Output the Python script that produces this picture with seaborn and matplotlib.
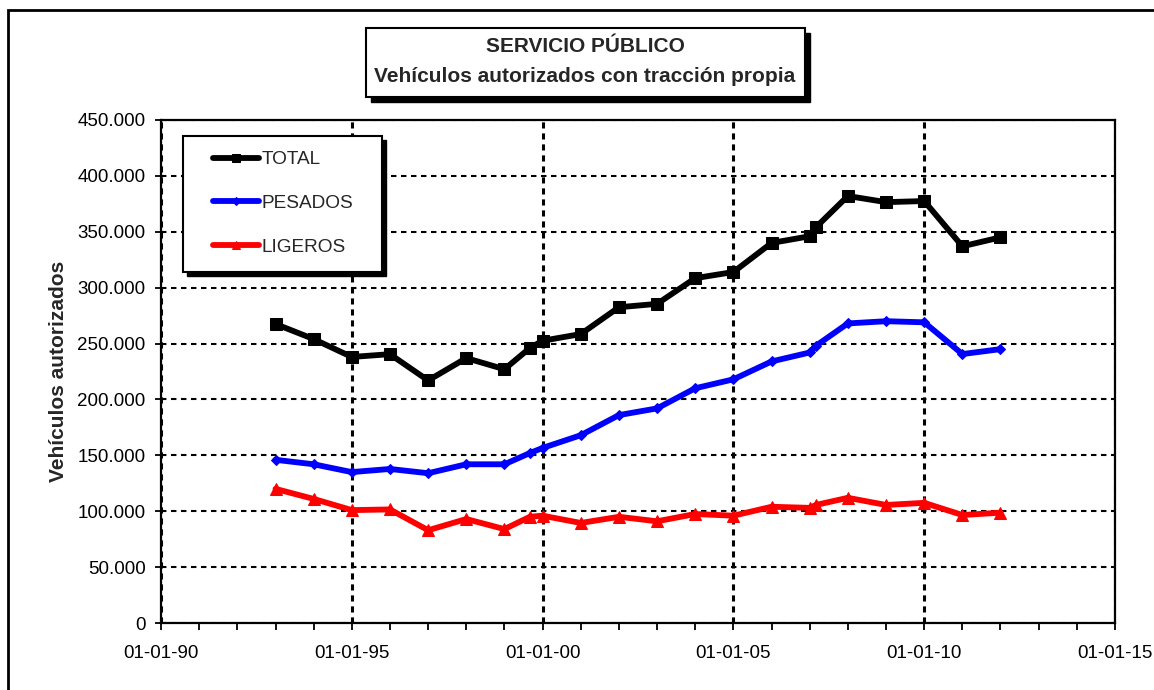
import matplotlib
matplotlib.use("Agg")
import matplotlib.pyplot as plt
import matplotlib.dates as mdates
from matplotlib.patches import Rectangle
from matplotlib.ticker import FuncFormatter, MultipleLocator
import pandas as pd
import seaborn as sns

# datos
fechas = ['1993-01-01', '1994-01-01', '1995-01-01', '1996-01-01', '1997-01-01',
          '1998-01-01', '1999-01-01', '1999-09-01', '2000-01-01', '2001-01-01',
          '2002-01-01', '2003-01-01', '2004-01-01', '2005-01-01', '2006-01-01',
          '2007-01-01', '2007-03-01', '2008-01-01', '2009-01-01', '2010-01-01',
          '2011-01-01', '2012-01-01']
total = [267500, 254000, 238000, 240500, 217000, 237000, 227000, 246000, 252500, 258500,
         282500, 285500, 308500, 314000, 340000, 346000, 354000, 382000, 376500, 377500,
         337000, 345000]
pesados = [146000, 142000, 135000, 137800, 134000, 142000, 142000, 152000, 156600, 168000,
           186000, 192000, 210000, 218000, 234000, 242000, 248000, 268000, 270000, 269000,
           240600, 245000]
ligeros = [120000, 111000, 101000, 101600, 83000, 93000, 84000, 95000, 96000, 89500,
           95000, 91000, 97500, 96000, 104000, 103000, 105600, 112000, 105600, 107500,
           96600, 98700]

series = ['TOTAL', 'PESADOS', 'LIGEROS']
valores = {'TOTAL': total, 'PESADOS': pesados, 'LIGEROS': ligeros}
colores = {'TOTAL': '#000000', 'PESADOS': '#0000FF', 'LIGEROS': '#FF0000'}
marcadores = {'TOTAL': 's', 'PESADOS': 'D', 'LIGEROS': '^'}
tam_marcador = {'TOTAL': 8, 'PESADOS': 5.5, 'LIGEROS': 8}

sns.set_style('white')
plt.rcParams['font.family'] = ['Liberation Sans', 'DejaVu Sans']

W, H = 1154, 690
fig = plt.figure(figsize=(W / 100, H / 100), dpi=100)


def fx(x):
    return x / W


def fy(y):
    return 1 - y / H


# marco exterior
fig.patches.append(Rectangle((fx(8), fy(700)), fx(1160) - fx(8), fy(10) - fy(700),
                             transform=fig.transFigure, fill=False, edgecolor='black',
                             linewidth=2, clip_on=False))

ax = fig.add_axes([fx(161), fy(623), fx(1115) - fx(161), fy(120) - fy(623)])

fechas_dt = pd.to_datetime(fechas)
for s in series:
    sns.lineplot(x=fechas_dt, y=valores[s], ax=ax, color=colores[s], linewidth=4.2,
                 marker=marcadores[s], markersize=tam_marcador[s],
                 markeredgecolor=colores[s], markerfacecolor=colores[s],
                 label=s, zorder=3)

ax.set_xlim(pd.Timestamp('1990-01-01'), pd.Timestamp('2015-01-01'))
ax.set_ylim(0, 450000)
ax.xaxis.set_major_locator(mdates.YearLocator(5))
ax.xaxis.set_minor_locator(mdates.YearLocator(1))
ax.xaxis.set_major_formatter(mdates.DateFormatter('%d-%m-%y'))
ax.yaxis.set_major_locator(MultipleLocator(50000))
ax.yaxis.set_major_formatter(FuncFormatter(lambda v, p: f"{int(v):,}".replace(',', '.')))

ax.grid(False)
ax.grid(True, axis='y', color='black', linewidth=1.5, linestyle=(0, (2.6, 2.2)), zorder=1)
ax.grid(True, axis='x', which='major', color='black', linewidth=2.2,
        linestyle=(0, (2, 1.6)), zorder=1)

for sp in ax.spines.values():
    sp.set_color('black')
    sp.set_linewidth(1.6)

ax.tick_params(axis='both', which='both', direction='out', colors='black',
               labelsize=13.5, width=1.3)
ax.tick_params(axis='y', length=4, pad=7)
ax.tick_params(axis='x', which='major', length=5, pad=11)
ax.tick_params(axis='x', which='minor', length=5)
ax.tick_params(axis='x', which='both', bottom=True)
ax.tick_params(axis='y', left=True)

ax.set_xlabel('')
ax.set_ylabel('Vehículos autorizados', fontsize=15, fontweight='bold')
ax.yaxis.set_label_coords(-0.098, 0.5)

# leyenda con marco y sombra dibujados a mano
fig.patches.append(Rectangle((fx(187), fy(276)), fx(382) - fx(183), fy(136) - fy(272),
                             transform=fig.transFigure, facecolor='black',
                             edgecolor='black', zorder=5))
fig.patches.append(Rectangle((fx(183), fy(272)), fx(382) - fx(183), fy(136) - fy(272),
                             transform=fig.transFigure, facecolor='white',
                             edgecolor='black', linewidth=1.5, zorder=6))
handles, labels = ax.get_legend_handles_labels()
ax.get_legend().remove()
leg = fig.legend(handles, labels, loc='upper left', bbox_to_anchor=(fx(213), fy(151)),
                 bbox_transform=fig.transFigure, frameon=False, fontsize=13.7,
                 handlelength=2.4, handletextpad=0.17, labelspacing=1.39,
                 borderpad=0, borderaxespad=0, markerscale=0.7)
leg.set_zorder(7)

# caja del titulo con sombra
fig.patches.append(Rectangle((fx(371), fy(102)), fx(805) - fx(366), fy(28) - fy(97),
                             transform=fig.transFigure, facecolor='black',
                             edgecolor='black', zorder=5))
fig.patches.append(Rectangle((fx(366), fy(97)), fx(805) - fx(366), fy(28) - fy(97),
                             transform=fig.transFigure, facecolor='white',
                             edgecolor='black', linewidth=1.5, zorder=6))
fig.text(fx(585), fy(47), 'SERVICIO PÚBLICO', ha='center', va='center',
         fontsize=15, fontweight='bold', zorder=7)
fig.text(fx(585), fy(77), 'Vehículos autorizados con tracción propia', ha='center',
         va='center', fontsize=15, fontweight='bold', zorder=7)

fig.savefig('out.png', dpi=100)
